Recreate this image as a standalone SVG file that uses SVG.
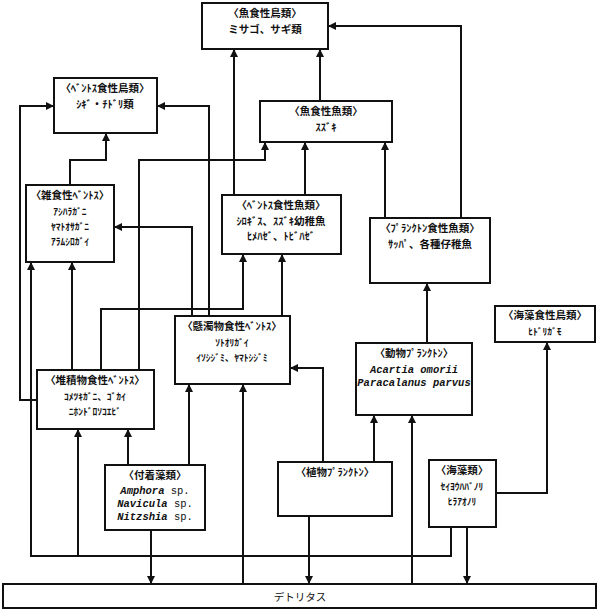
<svg xmlns="http://www.w3.org/2000/svg" width="600" height="614" viewBox="0 0 600 614">
<defs>
<marker id="a" viewBox="0 0 10 10" refX="10" refY="5" markerWidth="4" markerHeight="4" orient="auto" markerUnits="strokeWidth"><path d="M0,0L10,5L0,10z" fill="#111"/></marker>
<style>
rect{fill:#fff;stroke:#111;stroke-width:2}
text{font-family:"Noto Sans CJK JP",sans-serif;font-size:10.5px;fill:#111;text-anchor:middle;font-weight:bold}
.s{font-size:9.5px}
.i{font-family:"Liberation Mono",monospace;font-size:10.5px;font-weight:normal}
.i tspan.it{font-style:italic;font-weight:bold}
#c path{fill:none;stroke:#111;stroke-width:2;marker-end:url(#a)}
</style>
</defs>
<rect x="0" y="0" width="600" height="614" style="fill:#fff;stroke:none"/>
<g id="c">
<path d="M320,101V49"/>
<path d="M461,218V26H328"/>
<path d="M234,195V49"/>
<path d="M305,195V142"/>
<path d="M385,218V142"/>
<path d="M70,185V160H106V133"/>
<path d="M37,400H20V106H54"/>
<path d="M209,316V106H157"/>
<path d="M139,370V160H265V142"/>
<path d="M192,316V227H114"/>
<path d="M72,370V262"/>
<path d="M101,370V309H243V254"/>
<path d="M282,316V254"/>
<path d="M451,527V556H31V262"/>
<path d="M78,556V429"/>
<path d="M243,584V384"/>
<path d="M412,584V415"/>
<path d="M323,462V368H290"/>
<path d="M309,516V584"/>
<path d="M151,530V584"/>
<path d="M467,527V584"/>
<path d="M374,462V415"/>
<path d="M427,343V283"/>
<path d="M496,493H547V342"/>
<path d="M128,465V429"/>
<path d="M189,465V384"/>
</g>
<g id="n1"><rect x="202" y="3" width="126" height="46"/><text x="265" y="17">〈魚食性鳥類〉</text><text x="265" y="33">ミサゴ、サギ類</text></g>
<g id="n2"><rect x="54" y="78" width="103" height="55"/><text x="105" y="92">〈ﾍﾞﾝﾄｽ食性鳥類〉</text><text x="105" y="108">ｼｷﾞ・ﾁﾄﾞﾘ類</text></g>
<g id="n3"><rect x="260" y="101" width="132" height="41"/><text x="326" y="115">〈魚食性魚類〉</text><text x="326" y="131">ｽｽﾞｷ</text></g>
<g id="n4"><rect x="26" y="185" width="88" height="77"/><text x="70" y="199">〈雑食性ﾍﾞﾝﾄｽ〉</text><text class="s" x="70" y="215">ｱｼﾊﾗｶﾞﾆ</text><text class="s" x="70" y="230">ﾔﾏﾄｵｻｶﾞﾆ</text><text class="s" x="70" y="245">ｱﾗﾑｼﾛｶﾞｲ</text></g>
<g id="n5"><rect x="222" y="195" width="119" height="59"/><text x="281" y="209">〈ﾍﾞﾝﾄｽ食性魚類〉</text><text x="281" y="225">ｼﾛｷﾞｽ、ｽｽﾞｷ幼稚魚</text><text x="281" y="240">ﾋﾒﾊｾﾞ、ﾄﾋﾞﾊｾﾞ</text></g>
<g id="n6"><rect x="370" y="218" width="120" height="65"/><text x="430" y="232">〈ﾌﾟﾗﾝｸﾄﾝ食性魚類〉</text><text x="430" y="248">ｻｯﾊﾟ、各種仔稚魚</text></g>
<g id="n7"><rect x="495" y="306" width="100" height="36"/><text x="545" y="319">〈海藻食性鳥類〉</text><text class="s" x="545" y="335">ﾋﾄﾞﾘｶﾞﾓ</text></g>
<g id="n8"><rect x="175" y="316" width="115" height="68"/><text x="232" y="330">〈懸濁物食性ﾍﾞﾝﾄｽ〉</text><text class="s" x="232" y="346">ｿﾄｵﾘｶﾞｲ</text><text class="s" x="232" y="361">ｲｿｼｼﾞﾐ、ﾔﾏﾄｼｼﾞﾐ</text></g>
<g id="n9"><rect x="356" y="343" width="116" height="72"/><text x="414" y="357">〈動物ﾌﾟﾗﾝｸﾄﾝ〉</text><text class="i" x="414" y="373"><tspan class="it">Acartia omorii</tspan></text><text class="i" x="414" y="386"><tspan class="it">Paracalanus parvus</tspan></text></g>
<g id="n10"><rect x="37" y="370" width="117" height="59"/><text x="95" y="384">〈堆積物食性ﾍﾞﾝﾄｽ〉</text><text class="s" x="95" y="400">ｺﾒﾂｷｶﾞﾆ、ｺﾞｶｲ</text><text class="s" x="95" y="415">ﾆﾎﾝﾄﾞﾛｿｺｴﾋﾞ</text></g>
<g id="n11"><rect x="105" y="465" width="100" height="65"/><text x="155" y="479">〈付着藻類〉</text><text class="i" x="155" y="494"><tspan class="it">Amphora</tspan> sp.</text><text class="i" x="155" y="507"><tspan class="it">Navicula</tspan> sp.</text><text class="i" x="155" y="520"><tspan class="it">Nitzshia</tspan> sp.</text></g>
<g id="n12"><rect x="278" y="462" width="114" height="54"/><text x="335" y="476">〈植物ﾌﾟﾗﾝｸﾄﾝ〉</text></g>
<g id="n13"><rect x="429" y="460" width="67" height="67"/><text x="462" y="474">〈海藻類〉</text><text class="s" x="462" y="490">ｾｲﾖｳﾊﾊﾞﾉﾘ</text><text class="s" x="462" y="505">ﾋﾗｱｵﾉﾘ</text></g>
<g id="n14"><rect x="3" y="584" width="593" height="24"/><text x="300" y="601" style="font-weight:normal">デトリタス</text></g>
</svg>
